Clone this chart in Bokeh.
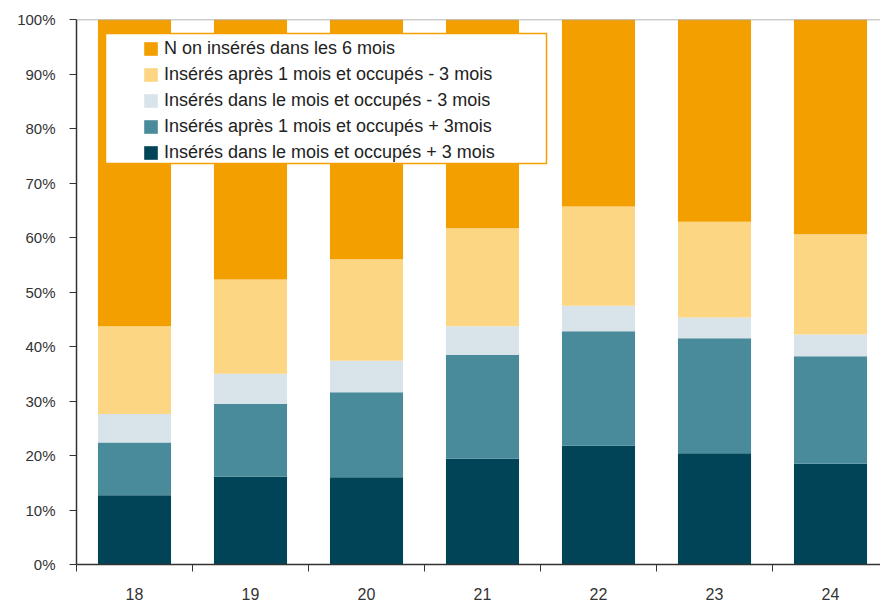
from bokeh.plotting import figure
from bokeh.models import (ColumnDataSource, Range1d, FixedTicker, Legend, LegendItem,
                          Span, BoxAnnotation, PrintfTickFormatter)
from bokeh.embed import file_html
from bokeh.resources import INLINE

years = ["18", "19", "20", "21", "22", "23", "24"]
dans_plus3 = [12.7, 16.1, 16.0, 19.4, 21.8, 20.4, 18.5]
apres_plus3 = [9.7, 13.4, 15.6, 19.1, 21.0, 21.1, 19.7]
dans_moins3 = [5.2, 5.5, 5.8, 5.2, 4.7, 3.8, 4.0]
apres_moins3 = [16.1, 17.3, 18.6, 18.0, 18.2, 17.6, 18.4]
non_inseres = [56.3, 47.7, 44.0, 38.3, 34.3, 37.1, 39.4]

series_names = [
    "Insérés dans le mois et occupés + 3 mois",
    "Insérés après 1 mois et occupés + 3mois",
    "Insérés dans le mois et occupés - 3 mois",
    "Insérés après 1 mois et occupés - 3 mois",
    "N on insérés dans les 6 mois",
]
colors = ["#024457", "#4A8B9B", "#D8E4EA", "#FCD683", "#F49F00"]
keys = ["s0", "s1", "s2", "s3", "s4"]

centers = [i + 0.5 for i in range(len(years))]
src = ColumnDataSource(dict(x=centers, s0=dans_plus3, s1=apres_plus3, s2=dans_moins3,
                            s3=apres_moins3, s4=non_inseres))

p = figure(width=880, height=602, output_backend="svg", toolbar_location=None,
           x_range=Range1d(0, 6.931), y_range=Range1d(0, 100),
           min_border_left=76, min_border_right=0, min_border_top=19, min_border_bottom=38)
p.outline_line_color = None
p.xgrid.grid_line_color = None
p.ygrid.grid_line_color = None
p.background_fill_color = "white"

rs = p.vbar_stack(keys, x="x", width=0.63, color=colors, line_color=None, source=src)

# top border line of plot area
p.add_layout(Span(location=100, dimension="width", line_color="#9A9A9A", line_width=1.5))

# axes
ax = p.xaxis[0]
ax.ticker = FixedTicker(ticks=centers, minor_ticks=list(range(len(years) + 1)))
ax.major_label_overrides = {c: y for c, y in zip(centers, years)}
ax.major_tick_out = 0
ax.major_tick_in = 0
ax.minor_tick_out = 7
ax.minor_tick_in = 0
ax.minor_tick_line_color = "#333333"
ax.axis_line_color = "#333333"
ax.axis_line_width = 1.5
ax.major_label_standoff = 16
ax.major_label_text_font = "Liberation Sans"
ax.major_label_text_font_size = "16px"
ax.major_label_text_color = "#333333"

ay = p.yaxis[0]
ay.ticker = FixedTicker(ticks=list(range(0, 101, 10)), minor_ticks=[])
ay.formatter = PrintfTickFormatter(format="%d%%")
ay.major_tick_out = 7
ay.major_tick_in = 0
ay.major_tick_line_color = "#333333"
ay.axis_line_color = "#333333"
ay.axis_line_width = 1.5
ay.major_label_standoff = 14
ay.major_label_text_font = "Liberation Sans"
ay.major_label_text_font_size = "15px"
ay.major_label_text_color = "#333333"

# legend frame
frame = BoxAnnotation(left=105, right=546, top=33, bottom=163,
                      left_units="canvas", right_units="canvas",
                      top_units="canvas", bottom_units="canvas",
                      fill_color="white", fill_alpha=1.0,
                      line_color="#F49F00", line_width=1.5, line_alpha=1.0)
p.add_layout(frame)

items = [LegendItem(label=series_names[i], renderers=[rs[i]]) for i in reversed(range(5))]
legend = Legend(items=items, location=(66, 401), padding=4, spacing=5,
                glyph_width=17, glyph_height=17, label_height=17, label_standoff=5,
                label_text_font="Liberation Sans", label_text_font_size="18px",
                label_text_color="#222222", border_line_color=None,
                background_fill_alpha=0.0)
p.add_layout(legend)

open("out.html", "w").write(file_html(p, INLINE))
